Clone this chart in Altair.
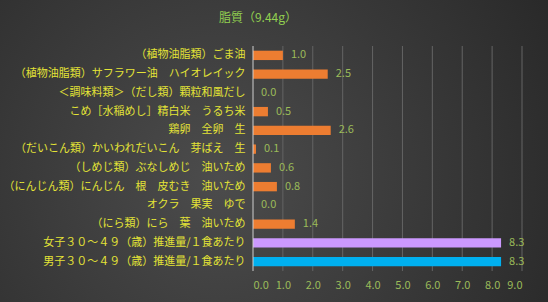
import altair as alt
import pandas as pd

categories = [
    "（植物油脂類）ごま油",
    "（植物油脂類）サフラワー油　ハイオレイック",
    "＜調味料類＞（だし類）顆粒和風だし",
    "こめ［水稲めし］精白米　うるち米",
    "鶏卵　全卵　生",
    "（だいこん類）かいわれだいこん　芽ばえ　生",
    "（しめじ類）ぶなしめじ　油いため",
    "（にんじん類）にんじん　根　皮むき　油いため",
    "オクラ　果実　ゆで",
    "（にら類）にら　葉　油いため",
    "女子３０～４９（歳）推進量/１食あたり",
    "男子３０～４９（歳）推進量/１食あたり",
]
values = [1.0, 2.5, 0.0, 0.5, 2.6, 0.1, 0.6, 0.8, 0.0, 1.4, 8.3, 8.3]
colors = ["#ED7D31"] * 10 + ["#CC99FF", "#00B0F0"]
x_ticks = [0, 1, 2, 3, 4, 5, 6, 7, 8, 9]
title_text = "脂質（9.44g）"

df = pd.DataFrame({"name": categories, "value": values, "color": colors})

JP = "Noto Sans CJK JP"

x_axis = alt.Axis(values=x_ticks, format=".1f", labelOverlap=False,
                  labelColor="#9BBB59", labelFont=JP, labelFontSize=11,
                  ticks=False, domain=False, grid=False, labelPadding=8,
                  zindex=1)
x_scale = alt.Scale(domain=[0, 9])

bg = alt.Chart(alt.Data(values=[{"a": 1}])).mark_rect(
    color={
        "gradient": "radial",
        "x1": 0.4, "y1": 0.55, "r1": 0.0,
        "x2": 0.4, "y2": 0.55, "r2": 0.75,
        "stops": [
            {"offset": 0, "color": "#4c4c4c"},
            {"offset": 1, "color": "#262626"},
        ],
    }
).encode(
    x=alt.value(-253), x2=alt.value(295),
    y=alt.value(-46), y2=alt.value(256),
)

grid = alt.Chart(pd.DataFrame({"t": x_ticks[1:]})).mark_rule(
    color="#646464", strokeWidth=1
).encode(x=alt.X("t:Q", scale=x_scale, axis=x_axis, title=None),
         y=alt.value(0), y2=alt.value(225))

title = alt.Chart(alt.Data(values=[{"a": 1}])).mark_text(
    text=title_text, color="#92D050", font=JP, fontSize=12, align="center", baseline="middle"
).encode(x=alt.value(5), y=alt.value(-28))

base = alt.Chart(df).encode(
    y=alt.Y("name:N", sort=categories, title=None,
            scale=alt.Scale(paddingInner=0.5, paddingOuter=0.25),
            axis=alt.Axis(labelColor="#E3E336", labelFont=JP, labelFontSize=11,
                          ticks=False, domain=False, labelPadding=8, labelLimit=300,
                          zindex=1)),
)

bars = base.mark_bar().encode(
    x=alt.X("value:Q", title=None, scale=x_scale, axis=x_axis),
    color=alt.Color("color:N", scale=None),
)

labels = base.mark_text(align="left", dx=8, color="#9BBB59", font=JP, fontSize=11).encode(
    x=alt.X("value:Q", title=None, scale=x_scale, axis=x_axis),
    text=alt.Text("value:Q", format=".1f"),
)

zero = alt.Chart(alt.Data(values=[{"a": 1}])).mark_rule(color="#cfcfcf", strokeWidth=1).encode(
    x=alt.X("z:Q", scale=x_scale, axis=x_axis, title=None),
    y=alt.value(0), y2=alt.value(225)
).transform_calculate(z="0")

chart = alt.layer(bg, grid, bars, labels, zero, title).properties(
    width=269, height=225,
    background="#333333",
    padding={"left": 253, "top": 46, "right": 26, "bottom": 31},
    autosize=alt.AutoSizeParams(type="none"),
).configure_view(stroke=None)

chart.save("out.html", embed_options={"renderer": "svg", "actions": False})
